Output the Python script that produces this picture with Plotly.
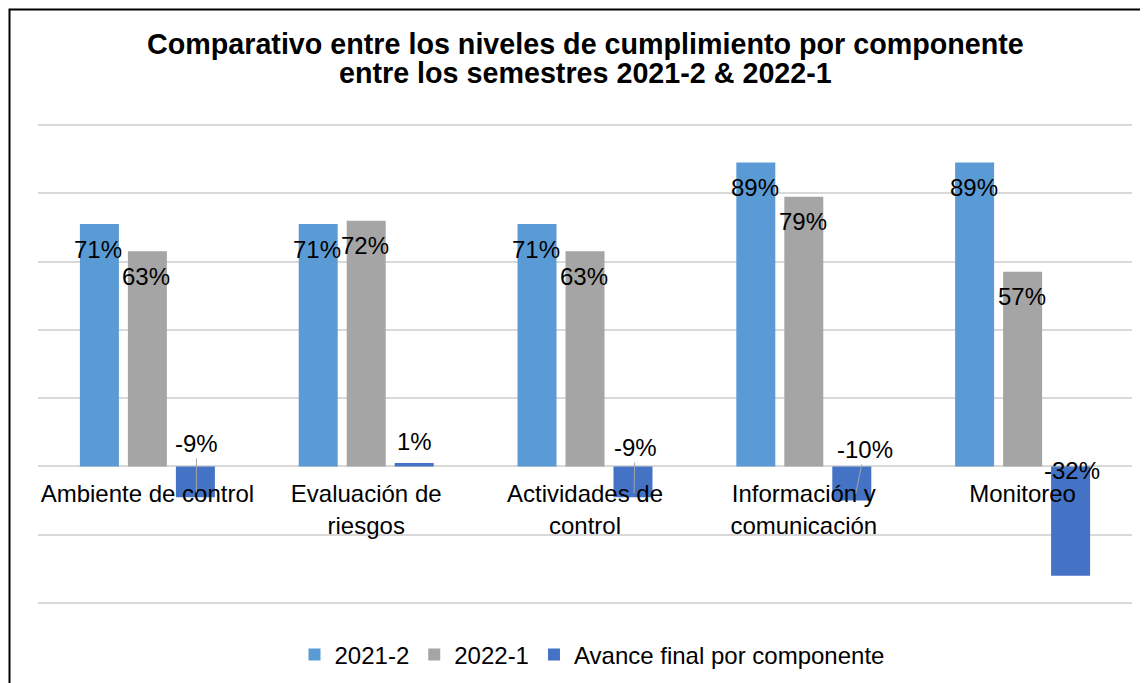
import plotly.graph_objects as go

# ---- data ----
categories = ["Ambiente de control", "Evaluación de<br>riesgos", "Actividades de<br>control",
              "Información y<br>comunicación", "Monitoreo"]
s2021_2 = [71, 71, 71, 89, 89]
s2022_1 = [63, 72, 63, 79, 57]
avance = [-9, 1, -9, -10, -32]
series_names = ["2021-2", "2022-1", "Avance final por componente"]
title_lines = ["Comparativo entre los niveles de cumplimiento por componente",
               "entre los semestres 2021-2 & 2022-1"]

colors = ["#5B9BD5", "#A5A5A5", "#4472C4"]
FONT = "Liberation Sans, Arial, sans-serif"

# page body has an 8px margin: figure occupies window pixels 8..1148 / 8..683
OFF = 8
W, H = 1148 - OFF, 683 - OFF
ymin, ymax = -40, 100
eps = 0.6                      # so the edge gridlines (100%, -40%) are drawn
top_px, bot_px = 125, 603      # window pixels of 100% and -40%
ppu = (bot_px - top_px) / (ymax - ymin)
pad = eps * ppu
ML = 38 - OFF
MR = W - (1132 - OFF)
MT = top_px - pad - OFF
MB = H - (bot_px + pad - OFF)
plot_h = H - MT - MB
plot_w = W - ML - MR


def paper_y(win_px):
    return (H - MB - (win_px - OFF)) / plot_h


def paper_x(win_px):
    return ((win_px - OFF) - ML) / plot_w


fig = go.Figure()
for name, vals, col in zip(series_names, [s2021_2, s2022_1, avance], colors):
    fig.add_trace(go.Bar(x=categories, y=vals, name=name, marker=dict(color=col, line=dict(width=0)),
                         hoverinfo="x+y"))

annotations = []
slot = 48  # px offset between grouped bars
# labels for first two series: inside, below the bar top
for vals, dx in [(s2021_2, -slot), (s2022_1, 0)]:
    for c, v in zip(categories, vals):
        annotations.append(dict(x=c, y=v, xref="x", yref="y", text=f"{v}%", showarrow=False,
                                xshift=dx - 1, yshift=-25, yanchor="middle",
                                font=dict(family=FONT, size=24, color="#000000")))

# labels for the "avance" series (moved by hand in the original, some with leader lines)
avance_label_style = [
    dict(leader=True, dx=1, ys=-26, ax=0, ay=-49),
    dict(leader=False, dx=0, ys=25),
    dict(leader=True, dx=1, ys=-27, ax=1, ay=-46),
    dict(leader=True, dx=4, ys=-27, ax=9, ay=-44),
    dict(leader=False, dx=1, ys=-4),
]
for c, v, st in zip(categories, avance, avance_label_style):
    if st["leader"]:
        annotations.append(dict(x=c, y=0, xref="x", yref="y", text=f"{v}%", showarrow=True,
                                arrowhead=0, arrowwidth=1, arrowcolor="#A6A6A6", standoff=0,
                                ax=st["ax"], ay=st["ay"], xshift=slot + st["dx"], yshift=st["ys"],
                                font=dict(family=FONT, size=24, color="#000000")))
    else:
        annotations.append(dict(x=c, y=0, xref="x", yref="y", text=f"{v}%", showarrow=False,
                                xshift=slot + st["dx"], yshift=st["ys"], yanchor="middle",
                                font=dict(family=FONT, size=24, color="#000000")))

# title (two lines, tight spacing)
for line, ypix in zip(title_lines, [44, 73]):
    annotations.append(dict(x=paper_x(585), xref="paper", y=paper_y(ypix), yref="paper",
                            text=f"<b>{line}</b>", showarrow=False, xanchor="center", yanchor="middle",
                            font=dict(family=FONT, size=28.7, color="#000000")))

fig.update_layout(
    width=W, height=H,
    margin=dict(l=ML, r=MR, t=MT, b=MB, autoexpand=False),
    paper_bgcolor="white", plot_bgcolor="white",
    barmode="group", bargap=0.342, bargroupgap=0.1875,
    font=dict(family=FONT, size=24, color="#000000"),
    showlegend=True,
    legend=dict(orientation="h", x=paper_x(592), xanchor="center", y=paper_y(655), yanchor="middle",
                font=dict(family=FONT, size=24, color="#000000"), traceorder="normal"),
    annotations=annotations,
    shapes=[dict(type="rect", xref="paper", yref="paper",
                 x0=paper_x(9.5), x1=paper_x(1200),
                 y0=paper_y(720), y1=paper_y(9.5),
                 line=dict(color="#000000", width=2), fillcolor="rgba(0,0,0,0)", layer="above")],
)
fig.update_xaxes(type="category", anchor="free", position=(0 - ymin + eps) / (ymax - ymin + 2 * eps),
                 automargin=False, showgrid=False, showline=False, ticks="", ticklabelstandoff=11,
                 tickfont=dict(family=FONT, size=24, color="#000000"))
fig.update_yaxes(range=[ymin - eps, ymax + eps], dtick=20, showticklabels=False, showgrid=True,
                 automargin=False,
                 gridcolor="#D9D9D9", gridwidth=1.5, zeroline=True, zerolinecolor="#D9D9D9",
                 zerolinewidth=1.5, showline=False)

fig.write_html("out.html")
